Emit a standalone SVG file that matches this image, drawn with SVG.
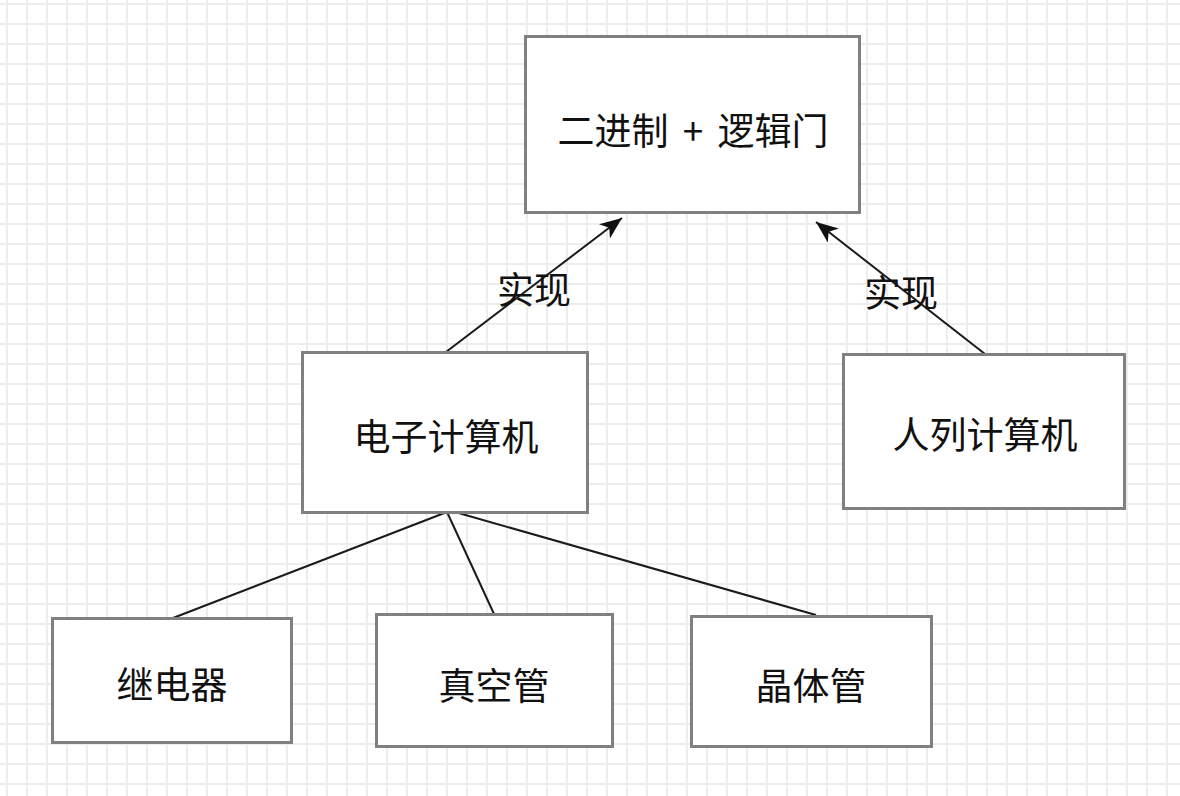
<svg xmlns="http://www.w3.org/2000/svg" width="1180" height="796" viewBox="0 0 1180 796">
<defs>
<pattern id="grid" width="20" height="20" patternUnits="userSpaceOnUse">
<path d="M7,0 V20 M0,4 H20" stroke="#ededed" stroke-width="2" fill="none"/>
</pattern>
<marker id="arr" viewBox="0 0 22 18" refX="22" refY="9" markerWidth="22" markerHeight="18" markerUnits="userSpaceOnUse" orient="auto">
<path d="M0,0 L22,9 L0,18 L6,9 Z" fill="#111"/>
</marker>
<style>
.box{fill:#fff;stroke:#808080;stroke-width:3}
.t{font-family:"Noto Sans CJK SC","Noto Sans",sans-serif;font-size:37px;fill:#111;text-anchor:middle;dominant-baseline:central}
.e{stroke:#1a1a1a;stroke-width:2;fill:none}
</style>
</defs>
<rect width="1180" height="796" fill="#fff"/>
<rect width="1180" height="796" fill="url(#grid)"/>
<g id="connectors">
<line class="e" x1="446" y1="352" x2="622" y2="218" marker-end="url(#arr)"/>
<line class="e" x1="985" y1="354" x2="816" y2="222" marker-end="url(#arr)"/>
<line class="e" x1="447" y1="512" x2="173" y2="618"/>
<line class="e" x1="447" y1="512" x2="494" y2="614"/>
<line class="e" x1="455" y1="512" x2="816" y2="615"/>
<text class="t" x="534" y="288">实现</text>
<text class="t" x="901" y="291">实现</text>
</g>
<g id="node-top">
<rect class="box" x="525.5" y="36.5" width="334" height="176"/>
<text class="t" x="693" y="129" word-spacing="6">二进制 + 逻辑门</text>
</g>
<g id="node-electronic">
<rect class="box" x="302.5" y="352.5" width="285" height="160"/>
<text class="t" x="446" y="435">电子计算机</text>
</g>
<g id="node-human">
<rect class="box" x="843.5" y="354.5" width="281" height="154"/>
<text class="t" x="985" y="433">人列计算机</text>
</g>
<g id="node-relay">
<rect class="box" x="52.5" y="618.5" width="239" height="124"/>
<text class="t" x="172" y="683">继电器</text>
</g>
<g id="node-vacuum">
<rect class="box" x="376.5" y="614.5" width="236" height="132"/>
<text class="t" x="494" y="684">真空管</text>
</g>
<g id="node-transistor">
<rect class="box" x="691.5" y="616.5" width="240" height="130"/>
<text class="t" x="811" y="684">晶体管</text>
</g>
</svg>
